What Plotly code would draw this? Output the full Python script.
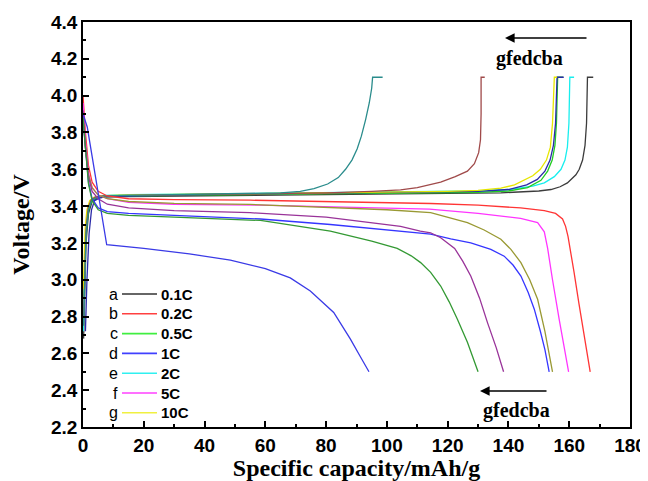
import plotly.graph_objects as go

# ---------------- charge curves (a .. g by capacity) ----------------
chg_a_cap = [0.2, 0.5, 1.0, 1.8, 3.0, 5, 8, 15, 30, 55, 80, 104, 120, 137.5, 150, 154, 157, 159.4, 162.2, 163.3, 164.4, 165.2, 165.7, 166.0, 167.9]
chg_a_v = [2.68, 2.95, 3.2, 3.36, 3.425, 3.445, 3.45, 3.452, 3.455, 3.46, 3.463, 3.467, 3.469, 3.472, 3.482, 3.49, 3.505, 3.526, 3.57, 3.6, 3.65, 3.73, 3.85, 4.1, 4.1]

chg_b_cap = [0.1, 0.4, 0.9, 1.6, 2.6, 4, 7, 15, 30, 55, 80, 104, 120, 130, 140, 148, 151.8, 155.1, 157.3, 158.6, 159.4, 159.9, 160.2, 161.6]
chg_b_v = [2.72, 3.0, 3.25, 3.38, 3.43, 3.45, 3.458, 3.462, 3.465, 3.47, 3.473, 3.477, 3.48, 3.482, 3.49, 3.508, 3.526, 3.56, 3.6, 3.65, 3.72, 3.85, 4.1, 4.1]

chg_c_cap = [0.3, 0.7, 1.3, 2.1, 3.2, 5, 8, 15, 30, 55, 80, 104, 120, 130, 140, 146.3, 150.7, 152.9, 154.4, 155.3, 155.8, 156.2, 158.0]
chg_c_v = [2.9, 3.15, 3.32, 3.4, 3.435, 3.447, 3.452, 3.455, 3.458, 3.463, 3.466, 3.47, 3.472, 3.474, 3.482, 3.5, 3.54, 3.59, 3.65, 3.73, 3.85, 4.1, 4.1]

chg_d_cap = [0.8, 1.3, 2.0, 2.8, 3.8, 5.5, 8, 15, 30, 55, 80, 104, 120, 130, 140, 146, 149.5, 152, 153.7, 154.8, 155.5, 156.0, 158.2]
chg_d_v = [2.72, 3.0, 3.25, 3.38, 3.43, 3.445, 3.452, 3.455, 3.46, 3.466, 3.47, 3.474, 3.477, 3.48, 3.49, 3.515, 3.545, 3.59, 3.65, 3.73, 3.85, 4.1, 4.1]

chg_e_cap = [0.1, 0.3, 0.7, 1.3, 2.2, 3.5, 6, 12, 30, 55, 80, 104, 120, 130, 137.5, 142, 145.2, 148, 150.5, 152.5, 153.8, 154.5, 155.1, 156.0]
chg_e_v = [2.95, 3.1, 3.28, 3.38, 3.43, 3.448, 3.455, 3.46, 3.463, 3.468, 3.472, 3.477, 3.48, 3.485, 3.497, 3.515, 3.54, 3.565, 3.6, 3.65, 3.72, 3.85, 4.1, 4.1]

chg_f_cap = [0.2, 0.5, 1.0, 1.7, 2.7, 4.2, 7, 15, 30, 55, 80, 95, 104.5, 110, 117.7, 122.5, 126.5, 128.8, 130.2, 130.8, 131.0, 131.0, 132.2]
chg_f_v = [2.8, 3.05, 3.27, 3.39, 3.435, 3.45, 3.455, 3.458, 3.462, 3.468, 3.472, 3.48, 3.488, 3.5, 3.53, 3.56, 3.59, 3.63, 3.69, 3.76, 3.9, 4.1, 4.1]

chg_g_cap = [0.2, 0.5, 1.0, 1.8, 2.8, 4.5, 7, 15, 30, 55, 65, 71.5, 76, 80.5, 84, 86.4, 88.5, 90.2, 91.6, 93, 94.2, 95.0, 95.3, 98.6]
chg_g_v = [2.75, 3.0, 3.25, 3.38, 3.43, 3.448, 3.455, 3.458, 3.462, 3.468, 3.472, 3.48, 3.495, 3.52, 3.555, 3.6, 3.65, 3.71, 3.78, 3.87, 3.96, 4.04, 4.1, 4.1]

# ---------------- discharge curves (a .. g by capacity) ----------------
dis_a_cap = [0, 0.8, 1.8, 3, 5, 8, 15, 30, 55, 80, 100, 114.4, 130, 144, 151.8, 155.5, 157.8, 158.8, 159.6, 160.3, 161.6, 163.2, 164.9, 166.9]
dis_a_v = [4.0, 3.8, 3.62, 3.53, 3.48, 3.455, 3.44, 3.435, 3.432, 3.425, 3.42, 3.414, 3.405, 3.39, 3.375, 3.36, 3.33, 3.29, 3.235, 3.17, 3.04, 2.87, 2.71, 2.5]

dis_b_cap = [0, 0.8, 1.8, 3, 5, 8, 15, 30, 58, 80, 100, 114, 130, 144, 149.6, 151.8, 152.9, 153.5, 154.5, 156.7, 158.3, 159.8]
dis_b_v = [3.96, 3.75, 3.58, 3.5, 3.46, 3.44, 3.42, 3.41, 3.405, 3.397, 3.39, 3.383, 3.36, 3.333, 3.31, 3.26, 3.17, 3.1, 3.0, 2.785, 2.64, 2.5]

dis_c_cap = [0, 0.8, 1.8, 3, 5, 8, 15, 30, 55, 80, 100, 114.4, 126.5, 132, 137.5, 140.8, 144.1, 147, 149.6, 152, 154.5]
dis_c_v = [3.9, 3.72, 3.57, 3.5, 3.46, 3.44, 3.425, 3.415, 3.409, 3.395, 3.38, 3.364, 3.31, 3.27, 3.22, 3.165, 3.093, 3.0, 2.894, 2.72, 2.5]

dis_d_cap = [0, 0.8, 1.8, 3, 5, 8, 15, 30, 48.5, 58.4, 81.4, 104.5, 114.4, 121, 127.6, 134.2, 138.6, 141.5, 144.1, 146.5, 148.5, 150.5, 152, 153.4]
dis_d_v = [3.87, 3.7, 3.53, 3.44, 3.39, 3.37, 3.36, 3.35, 3.335, 3.33, 3.30, 3.264, 3.248, 3.222, 3.2, 3.165, 3.128, 3.08, 3.02, 2.93, 2.84, 2.72, 2.62, 2.5]

dis_e_cap = [0, 0.8, 1.8, 3, 5, 8, 15, 30, 55, 80, 104.5, 111, 114.4, 117.7, 122.3, 125, 127.6, 130.5, 133.1, 136, 138.4]
dis_e_v = [3.92, 3.72, 3.56, 3.48, 3.44, 3.41, 3.39, 3.375, 3.364, 3.34, 3.29, 3.264, 3.255, 3.228, 3.17, 3.1, 3.02, 2.9, 2.767, 2.63, 2.5]

dis_f_cap = [0, 0.8, 1.8, 3, 5, 8, 15, 30, 48.5, 58.4, 81.4, 95, 103.4, 108, 111.1, 114.4, 117.7, 120.5, 123.2, 126.5, 130]
dis_f_v = [3.88, 3.7, 3.52, 3.43, 3.38, 3.36, 3.35, 3.34, 3.33, 3.322, 3.264, 3.21, 3.17, 3.13, 3.093, 3.04, 2.966, 2.88, 2.785, 2.66, 2.5]

dis_g_cap = [0, 1.4, 3, 5.5, 7.8, 20, 35, 48.5, 60, 68.2, 74.8, 82.5, 88, 91, 94.1]
dis_g_v = [3.9, 3.83, 3.67, 3.42, 3.19, 3.17, 3.14, 3.107, 3.06, 3.01, 2.939, 2.822, 2.677, 2.59, 2.5]

charge_curves = [
    (chg_a_cap, chg_a_v, '#3c3c3c'),
    (chg_b_cap, chg_b_v, '#18eeee'),
    (chg_c_cap, chg_c_v, '#22cc22'),
    (chg_d_cap, chg_d_v, '#2a2aa8'),
    (chg_e_cap, chg_e_v, '#e6e600'),
    (chg_f_cap, chg_f_v, '#a04a4a'),
    (chg_g_cap, chg_g_v, '#2a8c8c'),
]
discharge_curves = [
    (dis_a_cap, dis_a_v, '#ff3535'),
    (dis_b_cap, dis_b_v, '#ff35ff'),
    (dis_c_cap, dis_c_v, '#999933'),
    (dis_d_cap, dis_d_v, '#3535ff'),
    (dis_e_cap, dis_e_v, '#993399'),
    (dis_f_cap, dis_f_v, '#339933'),
    (dis_g_cap, dis_g_v, '#3a3ae6'),
]

# legend content
leg_letters = ['a', 'b', 'c', 'd', 'e', 'f', 'g']
leg_rates = ['0.1C', '0.2C', '0.5C', '1C', '2C', '5C', '10C']
leg_colors = ['#333333', '#ff4040', '#40ee40', '#4040ff', '#30f0f0', '#ff40ff', '#f0f040']
arrow_text = 'gfedcba'

fig = go.Figure()
for cap, v, col in charge_curves + discharge_curves:
    fig.add_trace(go.Scatter(x=cap, y=v, mode='lines', line=dict(color=col, width=1.3),
                             showlegend=False, hoverinfo='skip'))

# page is drawn with an 8px body margin -> figure covers page pixels 8..648 x 8..481
OFF = 8
W, H = 648 - OFF, 481 - OFF
# plot area in page pixels
L, R, T, B = 83, 630, 22, 427
def px_x(p):
    return (p - L) / (R - L) * 180.0
def px_y(p):
    return 2.2 + (B - p) / (B - T) * 2.2

# manual legend
for i, (let, rate, col) in enumerate(zip(leg_letters, leg_rates, leg_colors)):
    yp = 294 + 19.8 * i
    fig.add_annotation(x=px_x(120), y=px_y(yp), text=let, showarrow=False, xanchor='right',
                       font=dict(family='Liberation Sans, Arial', size=16, color='black'))
    fig.add_shape(type='line', x0=px_x(122), x1=px_x(157), y0=px_y(yp), y1=px_y(yp),
                  line=dict(color=col, width=1.6))
    fig.add_annotation(x=px_x(159), y=px_y(yp), text=rate, showarrow=False, xanchor='left',
                       font=dict(family='Liberation Sans, Arial', size=15, color='black', weight='bold'))

# arrows + labels
fig.add_annotation(x=px_x(505), y=px_y(38), ax=px_x(588), ay=px_y(38), xref='x', yref='y',
                   axref='x', ayref='y', text='', showarrow=True, arrowhead=2, arrowsize=1.2,
                   arrowwidth=1.6, arrowcolor='black')
fig.add_annotation(x=px_x(529), y=px_y(58), text=arrow_text, showarrow=False,
                   font=dict(family='Liberation Serif, Times New Roman', size=20, color='black', weight='bold'))
fig.add_annotation(x=px_x(480), y=px_y(391), ax=px_x(548), ay=px_y(391), xref='x', yref='y',
                   axref='x', ayref='y', text='', showarrow=True, arrowhead=2, arrowsize=1.2,
                   arrowwidth=1.6, arrowcolor='black')
fig.add_annotation(x=px_x(516), y=px_y(410), text=arrow_text, showarrow=False,
                   font=dict(family='Liberation Serif, Times New Roman', size=20, color='black', weight='bold'))

tickfont = dict(family='Liberation Sans, Arial', size=19, color='black', weight='bold')
titlefont = dict(family='Liberation Serif, Times New Roman', size=24, color='black', weight='bold')

fig.update_xaxes(range=[0, 180], dtick=20, tick0=0, showline=True, linecolor='black', linewidth=1.5,
                 mirror=True, ticks='inside', ticklen=6, tickwidth=1.5, tickcolor='black',
                 showgrid=False, zeroline=False, tickfont=tickfont, automargin=False,
                 minor=dict(dtick=10, ticks='inside', ticklen=3.5, tickwidth=1.5, tickcolor='black', showgrid=False),
                 title=dict(text='Specific capacity/mAh/g', font=titlefont, standoff=6))
fig.update_yaxes(range=[2.2, 4.4], dtick=0.2, tick0=2.2, tickformat='.1f', showline=True,
                 linecolor='black', linewidth=1.5, mirror=True, ticks='inside', ticklen=6,
                 tickwidth=1.5, tickcolor='black', showgrid=False, zeroline=False, tickfont=tickfont,
                 automargin=False,
                 minor=dict(dtick=0.1, ticks='inside', ticklen=3.5, tickwidth=1.5, tickcolor='black', showgrid=False),
                 title=dict(text='Voltage/V', font=titlefont, standoff=15))

fig.update_layout(width=W, height=H,
                  margin=dict(l=L - OFF, r=648 - R, t=T - OFF, b=481 - B, pad=0),
                  plot_bgcolor='white', paper_bgcolor='white', showlegend=False)

fig.write_html('out.html')
